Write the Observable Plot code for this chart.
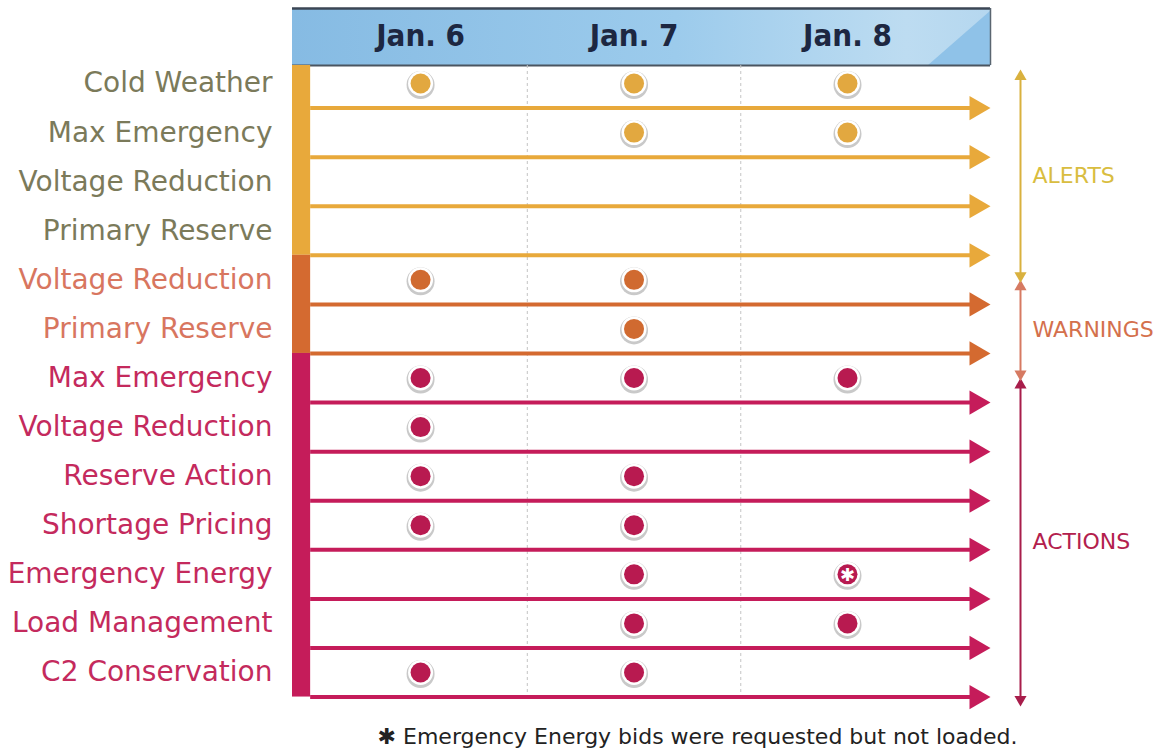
<!DOCTYPE html>
<html><head><meta charset="utf-8">
<script src="https://cdn.jsdelivr.net/npm/d3@7"></script>
<script src="https://cdn.jsdelivr.net/npm/@observablehq/plot@0.6"></script>
<style>body{margin:0;background:#fff;} #chart svg{display:block;}</style>
</head><body><div id="chart"></div>
<script>
// ---- data ----
const days = [6, 7, 8];
const dayLabels = ["Jan. 6", "Jan. 7", "Jan. 8"];
const rowLabels = ["Cold Weather","Max Emergency","Voltage Reduction","Primary Reserve",
  "Voltage Reduction","Primary Reserve",
  "Max Emergency","Voltage Reduction","Reserve Action","Shortage Pricing","Emergency Energy","Load Management","C2 Conservation"];
const rowGroups = ["alert","alert","alert","alert","warning","warning",
  "action","action","action","action","action","action","action"];
const rowEvents = [[6,7,8],[7,8],[],[],[6,7],[7],[6,7,8],[6],[6,7],[6,7],[7,8],[7,8],[6,7]];
const starredEvents = [{row: 10, day: 8}];
const groupNames = ["alert", "warning", "action"];
const groupTitles = ["ALERTS", "WARNINGS", "ACTIONS"];
const footnote = "Emergency Energy bids were requested but not loaded.";

// ---- styles ----
const groupColor = {alert: "#e8a93b", warning: "#d46a30", action: "#c51c5a"};
const dotColor = {alert: "#e2a840", warning: "#d06a30", action: "#b81a50"};
const labelColor = {alert: "#7b7a5a", warning: "#d8765f", action: "#c42a5d"};
const bracketColor = {alert: "#d9b13e", warning: "#d67a62", action: "#a81d4b"};
const titleColor = {alert: "#d9bd40", warning: "#d4704c", action: "#b3204d"};
const FONT = "DejaVu Sans";

const X0 = 5.4, X1 = 8.67, BAR = 0.085;
const PXX = (990 - 292) / (X1 - X0); // px per x unit
const PXY = (672 - 83) / 12; // px per row
const HTOP = (8 - 83) / PXY, HBOT = (65 - 83) / PXY;

const rows = rowLabels.map((label, i) => ({i, label, group: rowGroups[i]}));
const events = rowEvents.flatMap((ds, i) => ds.map(d => ({
  row: i, day: d, group: rowGroups[i],
  star: starredEvents.some(s => s.row === i && s.day === d)
})));
const spans = groupNames.map((g, k) => {
  const idx = rows.filter(r => r.group === g).map(r => r.i);
  return {g, k, first: d3.min(idx), last: d3.max(idx), title: groupTitles[k]};
});
spans.forEach(s => {
  s.b1 = s.k === 0 ? (72 - 83) / PXY : s.first + 0.06;
  s.b2 = s.k === spans.length - 1 ? s.last + 0.63 : s.last + 1.0;
  s.mid = (s.b1 + s.b2) / 2;
});

const plot = Plot.plot({
  width: 1157, height: 748, margin: 0,
  x: {type: "linear", domain: [X0, X1], range: [292, 990], axis: null},
  y: {type: "linear", domain: [0, 12], range: [83, 672], axis: null},
  color: {type: "identity"},
  marks: [
    // header band
    Plot.rect([0], {x1: X0, x2: X1, y1: HTOP, y2: HBOT, fill: "url(#hdr)"}),
    Plot.line([[X1 - 63 / PXX, HBOT], [X1, HBOT], [X1, HTOP + 2 / PXY]], {x: d => d[0], y: d => d[1], fill: "#8fc2e8", stroke: "none"}),
    Plot.ruleY([HTOP], {x1: X0, x2: X1, stroke: "#3b4654", strokeWidth: 2.5}),
    Plot.ruleY([HBOT], {x1: X0, x2: X1, stroke: "#4a5560", strokeWidth: 2}),
    Plot.ruleX([X1], {y1: HTOP, y2: HBOT, stroke: "#5a6570", strokeWidth: 1.5}),
    Plot.text(days, {x: d => d, y: () => (36 - 83) / PXY, text: (d, i) => dayLabels[i],
      fill: "#1d2741", fontSize: 31, fontWeight: "bold", fontFamily: "DejaVu Sans Condensed, DejaVu Sans", textAnchor: "middle"}),
    // dashed separators
    Plot.ruleX([6.5, 7.5], {y1: HBOT, y2: 12.5, stroke: "#c4c4c4", strokeWidth: 1, strokeDasharray: "3,3"}),
    // left group bars
    Plot.rect(spans, {x1: X0, x2: X0 + BAR, y1: s => s.k === 0 ? HBOT : s.first - 0.5, y2: s => s.last + 0.5,
      fill: s => groupColor[s.g]}),
    // arrows
    Plot.ruleY(rows, {y: r => r.i + 0.5, x1: X0 + BAR, x2: X1 - 16 / PXX, stroke: r => groupColor[r.group], strokeWidth: 4}),
    Plot.dot(rows, {x: () => X1 - 14 / PXX, y: r => r.i + 0.5, symbol: "triangle", r: 9, rotate: 90,
      fill: r => groupColor[r.group], stroke: "none"}),
    // row labels
    Plot.text(rows, {x: () => X0, y: "i", dx: -20, text: "label", textAnchor: "end",
      fill: r => labelColor[r.group], fontSize: 28, fontFamily: FONT}),
    // event dots
    Plot.dot(events, {x: "day", y: "row", dy: 1.5, r: 14, fill: "#c9c9c9", stroke: "none"}),
    Plot.dot(events, {x: "day", y: "row", r: 12.5, fill: "#ffffff", stroke: "none"}),
    Plot.dot(events, {x: "day", y: "row", r: 10, fill: e => dotColor[e.group], stroke: "none"}),
    Plot.text(events.filter(e => e.star), {x: "day", y: "row", text: () => "\u2731", fill: "#fff",
      fontSize: 18, fontFamily: "DejaVu Sans", dy: 1}),
    // right brackets
    Plot.ruleX(spans, {x: () => X1, dx: 30, y1: "b1", y2: "b2", stroke: s => bracketColor[s.g], strokeWidth: 2}),
    Plot.dot(spans, {x: () => X1, dx: 30, y: s => s.b1 + 4 / PXY, symbol: "triangle", r: 4.5,
      fill: s => bracketColor[s.g], stroke: "none"}),
    Plot.dot(spans, {x: () => X1, dx: 30, y: s => s.b2 - 4 / PXY, symbol: "triangle", r: 4.5, rotate: 180,
      fill: s => bracketColor[s.g], stroke: "none"}),
    Plot.text(spans, {x: () => X1, dx: 42, y: "mid", text: "title", textAnchor: "start",
      fill: s => titleColor[s.g], fontSize: 22, fontFamily: FONT}),
    // footnote
    Plot.text([footnote], {x: () => X0 + (697 - 292) / PXX, y: () => (736 - 83) / PXY,
      text: d => "\u2731 " + d, fill: "#222", fontSize: 22, fontFamily: FONT, textAnchor: "middle"})
  ]
});

const svg = d3.select(plot);
const grad = svg.insert("defs", ":first-child").append("linearGradient").attr("id", "hdr")
  .attr("x1", "0%").attr("x2", "100%").attr("y1", "0%").attr("y2", "0%");
grad.append("stop").attr("offset", "0%").attr("stop-color", "#86bbe3");
grad.append("stop").attr("offset", "55%").attr("stop-color", "#9ccbec");
grad.append("stop").attr("offset", "88%").attr("stop-color", "#bddcf1");
grad.append("stop").attr("offset", "100%").attr("stop-color", "#b5d7ef");
document.getElementById("chart").appendChild(plot);
</script>
</body></html>
